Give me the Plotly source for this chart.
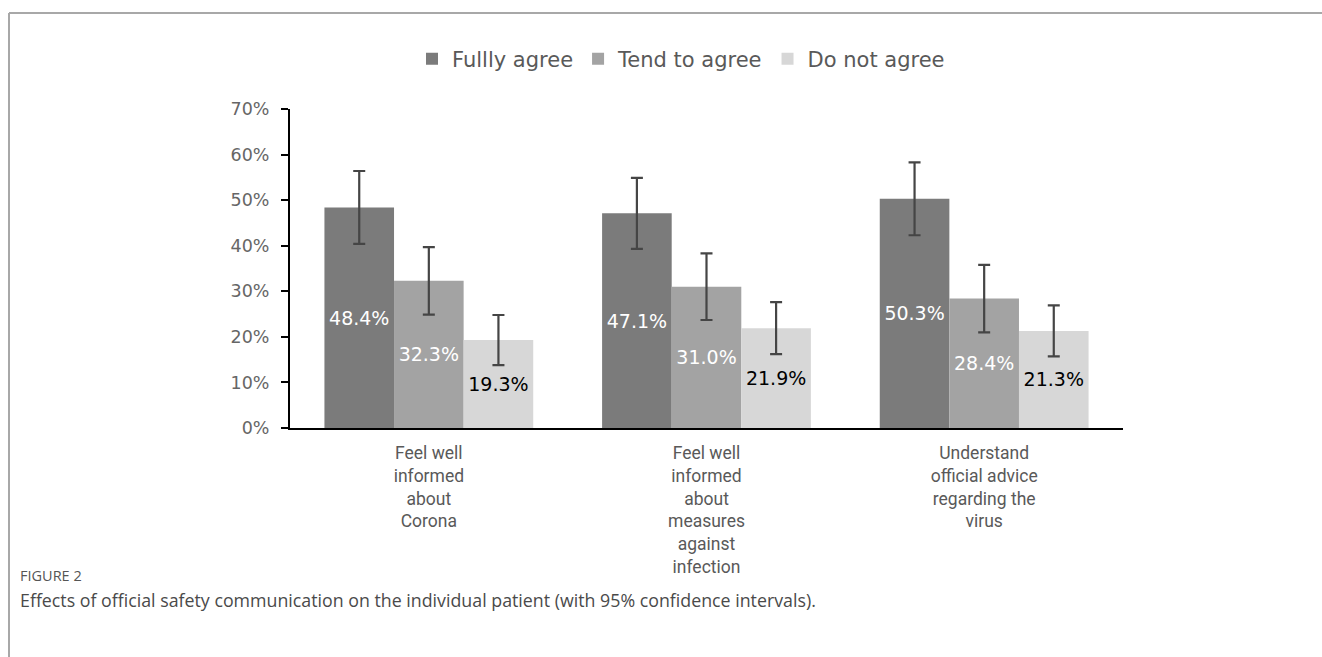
import plotly.graph_objects as go

categories = ["Feel well<br>informed<br>about<br>Corona",
              "Feel well<br>informed<br>about<br>measures<br>against<br>infection",
              "Understand<br>official advice<br>regarding the<br>virus"]
series_names = ["Fullly agree", "Tend to agree", "Do not agree"]
fully = [48.4, 47.1, 50.3]
tend = [32.3, 31.0, 28.4]
donot = [19.3, 21.9, 21.3]
fully_err = [8.0, 7.8, 8.0]
tend_err = [7.4, 7.3, 7.4]
donot_err = [5.5, 5.7, 5.6]
y_ticks = [0, 10, 20, 30, 40, 50, 60, 70]
y_tick_labels = ["0%", "10%", "20%", "30%", "40%", "50%", "60%", "70%"]

W, H = 1322, 657
L, R, T, B = 290, 199, 109, 229
PW, PH = W - L - R, H - T - B


def px(x):
    return (x - L) / PW


def py(y):
    return (H - B - y) / PH


colors = ["#7b7b7b", "#a3a3a3", "#d7d7d7"]
text_colors = ["#ffffff", "#ffffff", "#000000"]
values = [fully, tend, donot]
errs = [fully_err, tend_err, donot_err]

fig = go.Figure()
for name, vals, err, c, tc in zip(series_names, values, errs, colors, text_colors):
    fig.add_trace(go.Bar(
        name=name, x=categories, y=vals,
        marker=dict(color=c, line=dict(width=0)),
        error_y=dict(type="data", array=err, visible=True, color="#454545",
                     thickness=2.2, width=6),
        text=[f"{v:.1f}%" for v in vals],
        textposition="inside", insidetextanchor="middle",
        textangle=0,
        textfont=dict(family="DejaVu Sans", size=19, color=tc),
    ))

fig.update_layout(
    width=W, height=H,
    margin=dict(l=L, r=R, t=T, b=B),
    paper_bgcolor="white", plot_bgcolor="white",
    barmode="group", bargap=0.248, bargroupgap=0,
    uniformtext=dict(mode=False),
    font=dict(family="DejaVu Sans", color="#595959"),
    legend=dict(orientation="h", x=px(681), xanchor="center", y=py(59),
                yanchor="middle", font=dict(family="DejaVu Sans", size=21, color="#595959"),
                itemwidth=30, traceorder="normal", bgcolor="rgba(0,0,0,0)"),
    xaxis=dict(range=[-0.5, 2.5], showline=True, linecolor="#000000", linewidth=2,
               ticks="", showgrid=False, zeroline=False, ticklabelstandoff=8,
               tickfont=dict(family="Roboto", size=17.5, color="#595959")),
    yaxis=dict(range=[0, 70], tickvals=y_ticks, ticktext=y_tick_labels,
               showline=True, linecolor="#000000", linewidth=2,
               ticks="outside", ticklen=7, tickwidth=2, tickcolor="#000000",
               showgrid=False, zeroline=False, ticklabelstandoff=8,
               tickfont=dict(family="DejaVu Sans", size=17.5, color="#666666")),
    showlegend=True,
)

# frame lines
fig.add_shape(type="line", xref="paper", yref="paper", x0=px(9), x1=px(1322),
              y0=py(13), y1=py(13), line=dict(color="#a8a8a8", width=2))
fig.add_shape(type="line", xref="paper", yref="paper", x0=px(9), x1=px(9),
              y0=py(13), y1=py(657), line=dict(color="#a8a8a8", width=2))

fig.add_annotation(text="FIGURE 2", xref="paper", yref="paper", x=px(18), y=py(575),
                   xanchor="left", yanchor="middle", showarrow=False,
                   font=dict(family="Open Sans", size=14.5, color="#555555"))
fig.add_annotation(text="Effects of official safety communication on the individual patient (with 95% confidence intervals).",
                   xref="paper", yref="paper", x=px(18), y=py(600),
                   xanchor="left", yanchor="middle", showarrow=False,
                   font=dict(family="Open Sans", size=17.8, color="#4a4a4a"))

fig.write_html("out.html")
